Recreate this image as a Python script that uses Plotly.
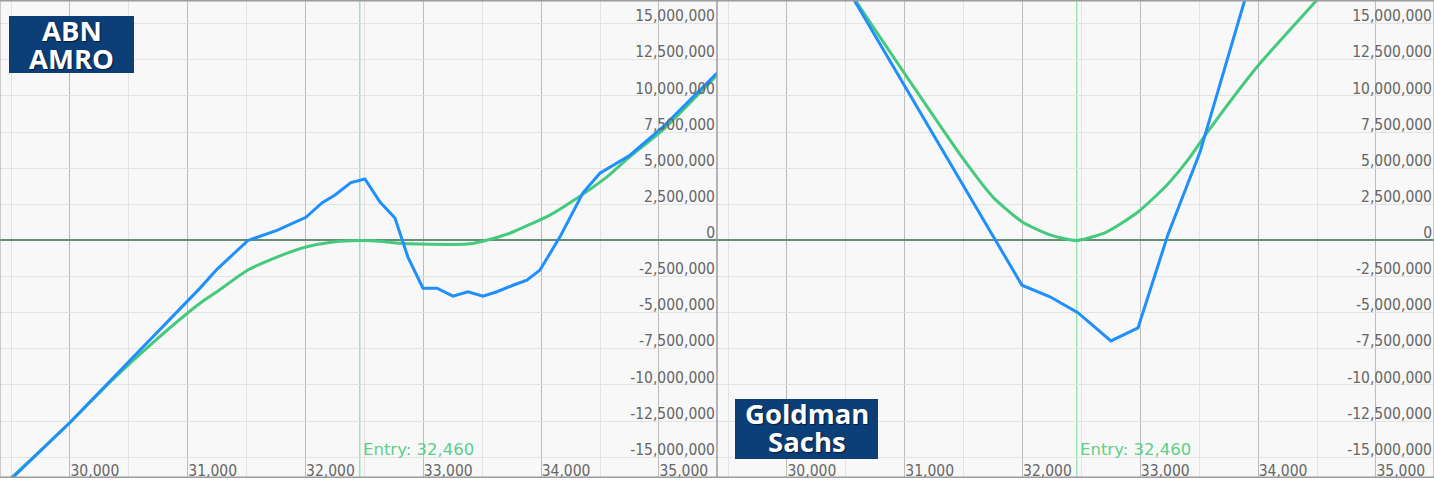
import plotly.graph_objects as go

M = 1_000_000
entry_price = 32460

# ABN AMRO panel (x = underlying price, y = P&L)
abn_blue_x = [29400, 30000, 31104, 31248, 31511, 31757, 32003, 32139, 32250, 32385, 32504,
              32632, 32759, 32869, 32997, 33116, 33251, 33379, 33506, 33625, 33761, 33879,
              33990, 34160, 34355, 34499, 34754, 35034, 35476, 35550]
abn_blue_y = [-17.3, -12.6, -3.3, -2.0, 0.0, 0.7, 1.6, 2.6, 3.15, 4.0, 4.25,
              2.65, 1.55, -1.15, -3.3, -3.3, -3.85, -3.55, -3.85, -3.55, -3.1, -2.75,
              -2.05, 0.25, 3.3, 4.65, 5.9, 7.85, 11.45, 12.0]
abn_green_x = [29400, 30000, 30340, 30700, 31104, 31248, 31511, 31757, 32003, 32233, 32462,
               32632, 32801, 32971, 33370, 33506, 33735, 33930, 34075, 34245, 34559, 34754,
               35034, 35476, 35550]
abn_green_y = [-17.2, -12.6, -9.8, -7.1, -4.35, -3.55, -2.05, -1.15, -0.45, -0.1, 0.0,
               -0.05, -0.2, -0.25, -0.25, -0.05, 0.5, 1.2, 1.75, 2.6, 4.4, 5.8,
               7.65, 11.3, 11.9]

# Goldman Sachs panel
gs_blue_x = [30450, 31995, 32233, 32470, 32750, 32980, 33234, 33506, 33950]
gs_blue_y = [18.3, -3.1, -3.9, -5.0, -6.95, -6.05, 0.4, 6.1, 18.4]
gs_green_x = [30450, 30580, 31503, 31749, 31995, 32233, 32462, 32716, 32980, 33226, 33404,
              33565, 33990, 34499, 34700]
gs_green_y = [18.4, 16.64, 5.57, 3.0, 1.3, 0.38, 0.0, 0.6, 1.97, 3.84, 5.57,
              7.44, 12.0, 16.64, 18.5]

x_ticks = [30000, 31000, 32000, 33000, 34000, 35000]
x_tick_labels = ["30,000", "31,000", "32,000", "33,000", "34,000", "35,000"]
y_ticks = [-15.0, -12.5, -10.0, -7.5, -5.0, -2.5, 0.0, 2.5, 5.0, 7.5, 10.0, 12.5, 15.0]
y_tick_labels = ["-15,000,000", "-12,500,000", "-10,000,000", "-7,500,000", "-5,000,000",
                 "-2,500,000", "0", "2,500,000", "5,000,000", "7,500,000", "10,000,000",
                 "12,500,000", "15,000,000"]
y_major_ticks = [-10.0, 0.0, 10.0]

BLUE = "#1f8ffc"
GREEN = "#45c97c"
ENTRY_COLOR = "#5ccf8a"
ENTRY_LINE = "#9de4b5"
GRID_MINOR = "#e3e3e3"
GRID_MAJOR = "#bcbcbc"
ZERO = "#658f74"
BORDER = "#9c9c9c"
TICK_FONT = dict(family="DejaVu Sans Condensed, Liberation Sans, sans-serif", size=15.5, color="#666666")

XR = [29406, 35493]
YR = [-16.37 * M, 16.57 * M]

fig = go.Figure()


def scale(v):
    return [y * M for y in v]


fig.add_trace(go.Scatter(x=abn_green_x, y=scale(abn_green_y), mode="lines",
                         line=dict(color=GREEN, width=3, shape="spline", smoothing=0.6),
                         xaxis="x", yaxis="y", showlegend=False, hoverinfo="skip"))
fig.add_trace(go.Scatter(x=abn_blue_x, y=scale(abn_blue_y), mode="lines",
                         line=dict(color=BLUE, width=3),
                         xaxis="x", yaxis="y", showlegend=False, hoverinfo="skip"))
fig.add_trace(go.Scatter(x=gs_green_x, y=scale(gs_green_y), mode="lines",
                         line=dict(color=GREEN, width=3, shape="spline", smoothing=0.6),
                         xaxis="x2", yaxis="y2", showlegend=False, hoverinfo="skip"))
fig.add_trace(go.Scatter(x=gs_blue_x, y=scale(gs_blue_y), mode="lines",
                         line=dict(color=BLUE, width=3),
                         xaxis="x2", yaxis="y2", showlegend=False, hoverinfo="skip"))

ydom = [3 / 480, 479 / 480]


def xaxis_cfg(domain, anchor):
    return dict(domain=domain, anchor=anchor, range=XR, tickvals=x_ticks, ticktext=x_tick_labels,
                ticklabelposition="inside right", ticks="", tickfont=TICK_FONT,
                ticklabelstandoff=-5,
                showgrid=True, gridcolor=GRID_MAJOR, gridwidth=1,
                minor=dict(dtick=500, tick0=0, showgrid=True, gridcolor=GRID_MINOR, gridwidth=1),
                zeroline=False, showline=True, mirror=True, linecolor=BORDER, linewidth=1,
                fixedrange=True)


def yaxis_cfg(position):
    # labels sit just left of the panel's right edge
    return dict(domain=ydom, anchor="free", position=position, side="left", range=YR,
                tickvals=scale(y_ticks), ticktext=y_tick_labels,
                ticklabelposition="outside top", ticks="", tickfont=TICK_FONT,
                ticklabelstandoff=2, ticklabelshift=3,
                showgrid=True, gridcolor=GRID_MINOR, gridwidth=1,
                zeroline=True, zerolinecolor=ZERO, zerolinewidth=1.5,
                showline=False, fixedrange=True)


def yaxis_major_cfg(over, anchor):
    return dict(overlaying=over, anchor=anchor, side="right", range=YR,
                tickvals=scale(y_major_ticks), showticklabels=False, ticks="",
                showgrid=True, gridcolor=GRID_MAJOR, gridwidth=1,
                zeroline=False, showline=False, fixedrange=True)


fig.update_layout(
    width=1434, height=480,
    margin=dict(l=0, r=0, t=0, b=0),
    paper_bgcolor="white", plot_bgcolor="#f8f8f8",
    xaxis=xaxis_cfg([0, 0.5], "y"),
    yaxis=yaxis_cfg(0.5),
    xaxis2=xaxis_cfg([0.5, 1.0], "y2"),
    yaxis2=yaxis_cfg(1.0),
    yaxis3=yaxis_major_cfg("y", "x"),
    yaxis4=yaxis_major_cfg("y2", "x2"),
    showlegend=False,
)

# Panel borders, entry lines and labels
for xr, yr in [("x", "y"), ("x2", "y2")]:
    fig.add_shape(type="rect", xref=xr + " domain", yref=yr + " domain", x0=0, x1=1, y0=0, y1=1,
                  line=dict(color=BORDER, width=1), fillcolor="rgba(0,0,0,0)", layer="above")
    fig.add_shape(type="line", xref=xr, yref=yr + " domain",
                  x0=entry_price, x1=entry_price, y0=0, y1=1,
                  line=dict(color=ENTRY_LINE, width=1.5), layer="below")
    fig.add_annotation(x=entry_price, xref=xr, y=0.058, yref=yr + " domain",
                       text=f"Entry: {entry_price:,}", showarrow=False, xanchor="left", yanchor="middle",
                       xshift=1, font=dict(family="DejaVu Sans, sans-serif", size=16.5, color=ENTRY_COLOR))

# Broker label boxes
BOX = "#0c3e78"
LABEL_FONT = dict(family="Open Sans, Noto Sans, sans-serif", size=27.5, color="white", weight=700,
                  shadow="1px 1px 1px #021a3a")
W, H = 1434, 480
boxes = [
    ("ABN", "AMRO", 9, 134, 16, 73),
    ("Goldman", "Sachs", 735, 878, 399, 459),
]
for top, bottom, x0, x1, y0, y1 in boxes:
    fig.add_shape(type="rect", xref="paper", yref="paper",
                  x0=x0 / W, x1=x1 / W, y0=1 - y1 / H, y1=1 - y0 / H,
                  fillcolor=BOX, line=dict(width=0), layer="above")
    cx = (x0 + x1) / 2 / W
    fig.add_annotation(x=cx, y=1 - (y0 + 14) / H, xref="paper", yref="paper", text=top,
                       showarrow=False, xanchor="center", yanchor="middle", font=LABEL_FONT)
    fig.add_annotation(x=cx, y=1 - (y0 + 42) / H, xref="paper", yref="paper", text=bottom,
                       showarrow=False, xanchor="center", yanchor="middle", font=LABEL_FONT)

fig.write_html("out.html",
               post_script="document.body.style.margin='0';document.body.style.overflow='hidden';"
                           "document.documentElement.style.overflow='hidden';",
               config={"displayModeBar": False})
